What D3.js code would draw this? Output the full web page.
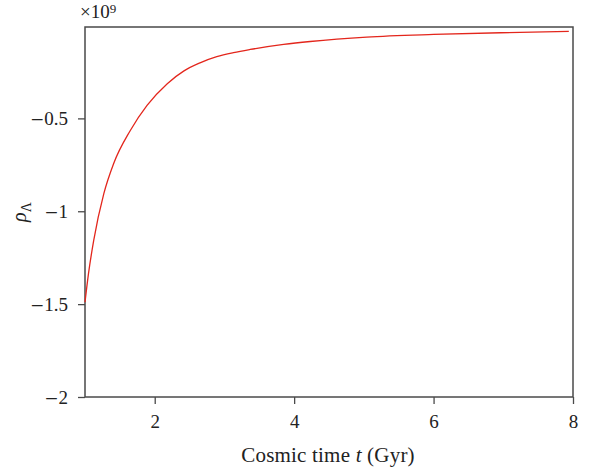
<!DOCTYPE html>
<html>
<head>
<meta charset="utf-8">
<script src="https://cdn.jsdelivr.net/npm/d3@7"></script>
<style>
  html, body { margin: 0; padding: 0; background: #fff; }
  svg { display: block; }
  text { font-family: "Liberation Serif", "DejaVu Serif", serif; fill: #222; }
</style>
</head>
<body>
<svg id="chart" width="595" height="472"></svg>
<script>
// Data, rho_Lambda in absolute units (axis shows ×10^9)
const cosmicTime = [1.0, 1.05, 1.125, 1.27, 1.41, 1.65, 1.89, 2.18, 2.42, 2.65, 2.89, 3.13, 3.37, 3.85, 4.23, 5.04, 6.0, 6.96, 7.94];
const rhoLambda = [-1.49e9, -1.336e9, -1.157e9, -0.905e9, -0.744e9, -0.565e9, -0.43e9, -0.313e9, -0.244e9, -0.201e9, -0.168e9, -0.146e9, -0.129e9, -0.102e9, -0.086e9, -0.062e9, -0.048e9, -0.039e9, -0.032e9];
const xTicks = [2, 4, 6, 8];
const yTicks = [-2e9, -1.5e9, -1e9, -0.5e9];
const xDomain = [1, 8];
const yDomain = [-2e9, -0.008e9];
const xLabel = "Cosmic time ";
const scaleExponent = 9;

const W = 595, H = 472;
const margin = { left: 85, right: 22, top: 27, bottom: 75 };
const svg = d3.select("#chart");
const x = d3.scaleLinear().domain(xDomain).range([margin.left, W - margin.right]);
const y = d3.scaleLinear().domain(yDomain).range([H - margin.bottom, margin.top]);
const axisColor = "#4a4a4a";

const fmtY = v => String(+(v / 1e9).toFixed(2));

// frame
svg.append("rect")
  .attr("x", margin.left).attr("y", margin.top)
  .attr("width", W - margin.left - margin.right)
  .attr("height", H - margin.top - margin.bottom)
  .attr("fill", "none").attr("stroke", axisColor).attr("stroke-width", 1.5);

// x axis
const gx = svg.append("g")
  .attr("transform", `translate(0,${H - margin.bottom})`)
  .call(d3.axisBottom(x).tickValues(xTicks).tickSize(7).tickPadding(11).tickFormat(d3.format("d")));
gx.select(".domain").remove();
gx.selectAll("line").attr("stroke", axisColor).attr("stroke-width", 1.3);
gx.selectAll("text").attr("font-size", 19).attr("fill", "#222")
  .style("font-family", '"Liberation Serif", serif');

// y axis
const gy = svg.append("g")
  .attr("transform", `translate(${margin.left},0)`)
  .call(d3.axisLeft(y).tickValues(yTicks).tickSize(7).tickPadding(10).tickFormat(fmtY));
gy.select(".domain").remove();
gy.selectAll("line").attr("stroke", axisColor).attr("stroke-width", 1.3);
gy.selectAll("text").attr("font-size", 19).attr("fill", "#222")
  .style("font-family", '"Liberation Serif", serif')
  .each(function() {
    const t = d3.select(this);
    const s = t.text();
    t.text(null);
    if (s.startsWith("-")) {
      t.append("tspan").style("font-family", '"DejaVu Serif", serif')
        .attr("font-size", 17).text("\u2212");
      t.append("tspan").text(s.slice(1));
    } else {
      t.append("tspan").text(s);
    }
  });

// curve
const line = d3.line()
  .x((d, i) => x(cosmicTime[i]))
  .y(d => y(d))
  .curve(d3.curveMonotoneX);
svg.append("path")
  .datum(rhoLambda)
  .attr("d", line)
  .attr("fill", "none")
  .attr("stroke", "#e3261c")
  .attr("stroke-width", 1.3);

// x label
const xl = svg.append("text")
  .attr("x", 328)
  .attr("y", 462)
  .attr("text-anchor", "middle")
  .attr("font-size", 21)
  .attr("letter-spacing", 0.2);
xl.append("tspan").text(xLabel);
xl.append("tspan").attr("font-style", "italic").text("t");
xl.append("tspan").text(" (Gyr)");

// y label rho_Lambda
const yl = svg.append("text")
  .attr("transform", `translate(26,${(margin.top + H - margin.bottom) / 2}) rotate(-90)`)
  .attr("text-anchor", "middle")
  .attr("font-size", 20);
yl.append("tspan").attr("font-style", "italic").text("\u03C1");
yl.append("tspan").attr("font-size", 14).attr("dy", 5).text("\u039B");

// ×10^9
const ex = svg.append("text")
  .attr("x", 80).attr("y", 18)
  .attr("font-size", 19);
ex.append("tspan").text("\u00D710");
ex.append("tspan").attr("font-size", 13).attr("dy", -5).text(scaleExponent);
</script>
</body>
</html>
